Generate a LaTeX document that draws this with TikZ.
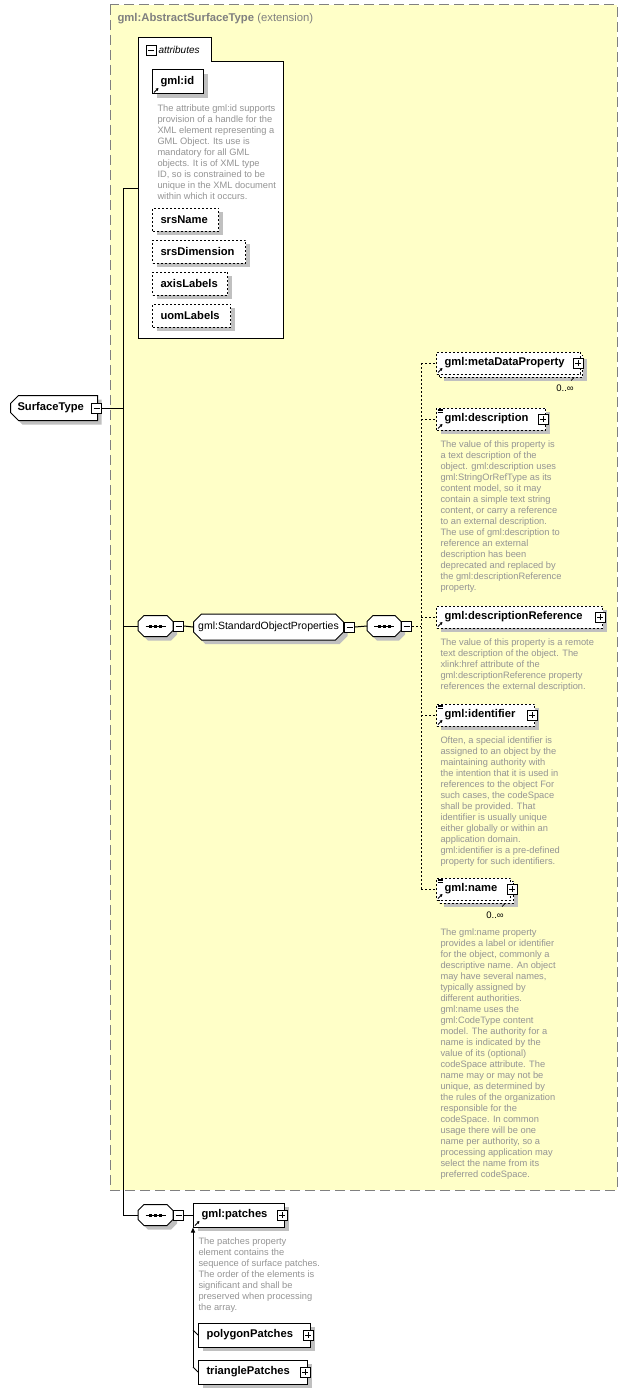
\documentclass[tikz,border=0pt]{standalone}
\usepackage{fontspec}
\setmainfont{Liberation Sans}
\usetikzlibrary{shapes.misc,shadows,arrows.meta}
\definecolor{extfill}{HTML}{FFFFC8}
\definecolor{extline}{HTML}{808080}
\definecolor{doctext}{HTML}{949494}
\definecolor{shadowgray}{HTML}{C0C0C0}
\newcommand{\lblfont}{\fontsize{11.2}{13}\selectfont\bfseries}
\newcommand{\docfont}{\fontsize{9.3}{11}\selectfont}
% small icons inside element boxes
\newcommand{\refmark}[1]{\draw[line width=0.9pt,-{Triangle[length=2.6pt,width=2.8pt]}] ([xshift=2pt,yshift=2pt]#1.south west) -- ++(4.5pt,4.5pt);}
\newcommand{\simplemark}[1]{\foreach \dy in {1.5,3.2,4.9} \draw[line width=0.7pt] ([xshift=1.5pt,yshift=-\dy pt]#1.north west) -- ++(5pt,0pt);}
% sequence compositor drawn round an invisible node
\newcommand{\octpath}[1]{([xshift=6pt]#1.north west) -- ([xshift=-6pt]#1.north east) -- ([yshift=-6pt]#1.north east)
  -- ([yshift=6pt]#1.south east) -- ([xshift=-6pt]#1.south east) -- ([xshift=6pt]#1.south west)
  -- ([yshift=6pt]#1.south west) -- ([yshift=-6pt]#1.north west) -- cycle}
\newcommand{\seqshape}[1]{%
  \fill[shadowgray,transform canvas={shift={(4pt,-4pt)}}] \octpath{#1};
  \filldraw[fill=white] \octpath{#1};
  \draw ([xshift=-10pt]#1.center) -- ([xshift=10pt]#1.center);
  \foreach \d in {-5,0,5} \fill ([xshift=\d pt]#1.center) +(-1.5pt,-1.5pt) rectangle +(1.5pt,1.5pt);}
\tikzset{
  shadowed/.style={drop shadow={shadow xshift=4pt,shadow yshift=-4pt,opacity=1,fill=shadowgray}},
  opt/.style={dash pattern=on 2pt off 2pt},
  elem/.style={draw,fill=white,anchor=west,font=\lblfont,inner xsep=8pt,inner ysep=0pt,
    align=left,minimum height=22pt},
  minusbox/.style={draw,fill=white,minimum size=10pt,inner sep=0pt,
    path picture={\draw ([xshift=2pt]path picture bounding box.west) -- ([xshift=-2pt]path picture bounding box.east);}},
  plusbox/.style={draw,fill=white,minimum size=10pt,inner sep=0pt,
    path picture={\draw ([xshift=2pt]path picture bounding box.west) -- ([xshift=-2pt]path picture bounding box.east);
      \draw ([yshift=-2pt]path picture bounding box.north) -- ([yshift=2pt]path picture bounding box.south);}},
  seqbox/.style={minimum width=34pt,minimum height=20pt,inner sep=0pt,anchor=west},
  doc/.style={anchor=north west,align=left,font=\docfont,text=doctext,inner sep=0pt},
  occ/.style={font=\fontsize{9.5}{11}\selectfont,inner sep=0pt}
}
\begin{document}
\begin{tikzpicture}[x=1pt,y=-1pt,line width=1pt]
\useasboundingbox (0,0) rectangle (628,1394);
% extension frame
\draw[extline,dash pattern=on 10pt off 5pt,fill=extfill] (110,5) rectangle (617,1190);
\node[anchor=west,text=extline,font=\fontsize{11.3}{13}\selectfont,inner sep=0pt] (exttitle) at (117,19)
  {\textbf{gml:AbstractSurfaceType} (extension)};

% attributes group
\draw[fill=white] (138,38) -- (211,38) -- (211,62) -- (283,62) -- (283,338) -- (138,338) -- cycle;
\node[minusbox] (attrm) at (151,51) {};
\node[anchor=west,font=\fontsize{10}{12}\selectfont\itshape,inner sep=0pt] (attrlbl) at (158,50) {attributes};
\coordinate (attrin) at (138,188);

\node[elem,shadowed,text width=35pt,minimum height=24pt] (gmlid) at (152,82) {gml:id};
\refmark{gmlid}
\node[doc] (gmliddoc) at (157,104) {The attribute gml:id supports\\provision of a handle for the\\XML element representing a\\GML Object. Its use is\\mandatory for all GML\\objects. It is of XML type\\ID, so is constrained to be\\unique in the XML document\\within which it occurs.};
\node[elem,opt,shadowed,text width=50pt,minimum height=23pt] (srsname) at (152,219.5) {srsName};
\node[elem,opt,shadowed,text width=77pt,minimum height=23pt] (srsdim) at (152,251.5) {srsDimension};
\node[elem,opt,shadowed,text width=59pt,minimum height=23pt] (axis) at (152,283.5) {axisLabels};
\node[elem,opt,shadowed,text width=62pt,minimum height=23pt] (uom) at (152,315.5) {uomLabels};

% root type
\node[chamfered rectangle,chamfered rectangle corners={north west,south west},chamfered rectangle sep=4pt,
  draw,fill=white,anchor=west,font=\lblfont,inner sep=0pt,shadowed,text width=73pt,align=left,
  minimum width=87pt,minimum height=25pt] (st) at (10,408) {SurfaceType};
\node[minusbox] (stm) at ([xshift=-1.5pt]st.east) {};

% standard object properties
\node[seqbox] (seqA) at (138,626) {};
\seqshape{seqA}
\node[minusbox,anchor=west] (seqAm) at (seqA.east) {};
\node[chamfered rectangle,chamfered rectangle sep=4pt,draw,fill=white,shadowed,anchor=west,inner sep=0pt,
  font=\fontsize{10.5}{12}\selectfont,minimum width=150pt,minimum height=26pt] (sop) at (193,627) {gml:StandardObjectProperties};
\node[minusbox,anchor=west] (sopm) at (sop.east) {};
\node[seqbox,minimum width=33pt] (seqB) at (367,626) {};
\seqshape{seqB}
\node[minusbox,anchor=west] (seqBm) at (seqB.east) {};

\node[elem,opt,shadowed,text width=127pt] (metab) at (439,366) {};
\node[elem,opt,text width=128pt] (meta) at (436,363) {gml:metaDataProperty};
\refmark{meta}
\node[plusbox] (metap) at ([xshift=-3pt]meta.east) {};
\node[occ] (metaocc) at (565,388) {0..∞};
\draw[line width=0.7pt] ([xshift=-9pt]metab.south east) -- ++(-3pt,-3pt);

\node[elem,opt,shadowed,text width=93pt] (desc) at (436,419) {gml:description};
\simplemark{desc}\refmark{desc}
\node[plusbox] (descp) at ([xshift=-3pt]desc.east) {};
\node[doc] (descdoc) at (440,440) {The value of this property is\\a text description of the\\object. gml:description uses\\gml:StringOrRefType as its\\content model, so it may\\contain a simple text string\\content, or carry a reference\\to an external description.\\The use of gml:description to\\reference an external\\description has been\\deprecated and replaced by\\the gml:descriptionReference\\property.};

\node[elem,opt,shadowed,text width=150pt] (descref) at (436,617) {gml:descriptionReference};
\refmark{descref}
\node[plusbox] (descrefp) at ([xshift=-3pt]descref.east) {};
\node[doc] (descrefdoc) at (440,638) {The value of this property is a remote\\text description of the object. The\\xlink:href attribute of the\\gml:descriptionReference property\\references the external description.};

\node[elem,opt,shadowed,text width=82pt] (ident) at (436,715) {gml:identifier};
\simplemark{ident}\refmark{ident}
\node[plusbox] (identp) at ([xshift=-3pt]ident.east) {};
\node[doc] (identdoc) at (440,736) {Often, a special identifier is\\assigned to an object by the\\maintaining authority with\\the intention that it is used in\\references to the object For\\such cases, the codeSpace\\shall be provided. That\\identifier is usually unique\\either globally or within an\\application domain.\\gml:identifier is a pre-defined\\property for such identifiers.};

\node[elem,opt,shadowed,text width=58pt] (nameb) at (439,892) {};
\node[elem,opt,text width=58pt] (name) at (436,889) {gml:name};
\simplemark{name}\refmark{name}
\node[plusbox] (namep) at ([xshift=1pt]name.east) {};
\node[occ] (nameocc) at (495,915) {0..∞};
\draw[line width=0.7pt] ([xshift=-9pt]nameb.south east) -- ++(-3pt,-3pt);
\node[doc] (namedoc) at (440,928) {The gml:name property\\provides a label or identifier\\for the object, commonly a\\descriptive name. An object\\may have several names,\\typically assigned by\\different authorities.\\gml:name uses the\\gml:CodeType content\\model. The authority for a\\name is indicated by the\\value of its (optional)\\codeSpace attribute. The\\name may or may not be\\unique, as determined by\\the rules of the organization\\responsible for the\\codeSpace. In common\\usage there will be one\\name per authority, so a\\processing application may\\select the name from its\\preferred codeSpace.};

% patches
\node[seqbox] (seqC) at (138,1215) {};
\seqshape{seqC}
\node[minusbox,anchor=west] (seqCm) at (seqC.east) {};
\node[elem,shadowed,text width=75pt,minimum height=24pt] (patches) at (193,1215) {gml:patches};
\refmark{patches}
\node[plusbox] (patchesp) at ([xshift=-3pt]patches.east) {};
\node[doc] (patchesdoc) at (198,1237) {The patches property\\element contains the\\sequence of surface patches.\\The order of the elements is\\significant and shall be\\preserved when processing\\the array.};
\node[elem,shadowed,text width=96pt,minimum height=24pt] (poly) at (198,1335) {polygonPatches};
\node[plusbox] (polyp) at ([xshift=-3pt]poly.east) {};
\node[elem,shadowed,text width=93pt,minimum height=24pt] (tri) at (198,1372) {trianglePatches};
\node[plusbox] (trip) at ([xshift=-3pt]tri.east) {};

% connectors
\coordinate (busTop) at (123,188);
\coordinate (busSt) at (123,408);
\coordinate (busSeq) at (123,626);
\coordinate (busEnd) at (123,1215);
\draw (stm.east) -- (busSt);
\draw (attrin) -- (busTop) -- (busEnd) -- (seqC.west);
\draw (busSeq) -- (seqA.west);
\draw (seqAm.east) -- (sop.west);
\draw (sopm.east) -- (seqB.west);
\coordinate (dbus) at (421,626);
\coordinate (dtop) at (421,363);
\coordinate (dbot) at (421,889);
\draw[opt] (seqBm.east) -- (dbus);
\draw[opt] (dtop) -- (dbot);
\foreach \n in {meta,desc,descref,ident,name}
  \draw[opt] (dbus |- \n.west) -- (\n.west);
\draw (seqCm.east) -- (patches.west);
\coordinate (subBot) at ([xshift=-5pt,yshift=5pt]tri.west);
\draw[-{Triangle[length=5pt,width=4pt]}] (subBot) -- (patches.south west);
\draw ([xshift=-5pt,yshift=5pt]poly.west) -- (poly.west);
\draw (subBot) -- (tri.west);
\end{tikzpicture}
\end{document}
